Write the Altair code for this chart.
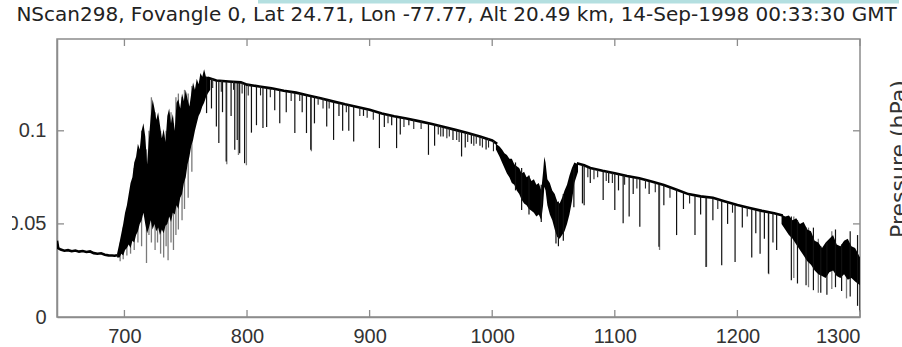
import altair as alt
import pandas as pd

# ---------------------------------------------------------------------------
# Spectrum values (wavenumber in cm-1, radiance)
# ---------------------------------------------------------------------------

# Smooth upper envelope of the black spectrum, split into three segments
# that are separated by the dense absorption bands.
seg1_wn = [645, 646, 648, 651, 654, 657, 660, 663, 666, 669, 672, 675, 678, 681, 684, 687, 690, 692, 694]
seg1_val = [0.041, 0.037, 0.0362, 0.0356, 0.0359, 0.0353, 0.0357, 0.0351, 0.0354, 0.0349, 0.0352,
            0.0343, 0.0340, 0.0342, 0.0334, 0.0331, 0.0330, 0.0329, 0.0332]

seg2_wn = [768, 775, 785, 795, 800, 810, 820, 830, 840, 850, 860, 870, 880, 890, 900,
           910, 920, 930, 940, 950, 960, 970, 980, 990, 1000, 1004]
seg2_val = [0.1285, 0.127, 0.1265, 0.126, 0.1248, 0.1238, 0.1228, 0.1215, 0.1205, 0.119, 0.1175,
            0.1158, 0.1142, 0.1128, 0.1113, 0.1093, 0.1078, 0.1066, 0.1052, 0.1038, 0.1022,
            0.1005, 0.0988, 0.0969, 0.0948, 0.093]

seg3_wn = [1069, 1075, 1080, 1090, 1100, 1110, 1120, 1130, 1140, 1150, 1160, 1170, 1180,
           1190, 1200, 1210, 1220, 1230, 1237]
seg3_val = [0.0826, 0.0815, 0.080, 0.0785, 0.0772, 0.0757, 0.0745, 0.0728, 0.0709, 0.0685,
            0.066, 0.0648, 0.064, 0.062, 0.0601, 0.0585, 0.057, 0.0557, 0.0545]

# Dense absorption bands: wavenumber, upper and lower extent of the black trace
band1_wn = [694, 696, 697.5, 699, 700.5, 702, 703.5, 705, 706.5, 708, 709.5, 711, 712.5, 714,
            715.5, 717, 718.5, 720, 721.5, 723, 724.5, 726, 727.5, 729, 730.5, 732, 733.5, 735,
            736.5, 738, 739.5, 741, 742.5, 744, 745.5, 747, 748.5, 750, 751.5, 753, 754.5, 756,
            757.5, 759, 760.5, 762, 763.5, 765, 766.5, 768, 770]
band1_hi = [0.034, 0.040, 0.045, 0.050, 0.056, 0.060, 0.066, 0.072, 0.075, 0.083, 0.086, 0.093,
            0.090, 0.100, 0.104, 0.097, 0.082, 0.096, 0.108, 0.117, 0.112, 0.106, 0.110, 0.103,
            0.096, 0.101, 0.094, 0.108, 0.112, 0.104, 0.109, 0.100, 0.115, 0.117, 0.112, 0.120,
            0.116, 0.122, 0.117, 0.113, 0.120, 0.126, 0.122, 0.128, 0.125, 0.131, 0.129, 0.133,
            0.129, 0.129, 0.128]
band1_lo = [0.032, 0.032, 0.034, 0.033, 0.036, 0.037, 0.039, 0.037, 0.041, 0.040, 0.044, 0.046,
            0.050, 0.052, 0.056, 0.050, 0.045, 0.048, 0.052, 0.047, 0.050, 0.046, 0.048, 0.044,
            0.047, 0.045, 0.049, 0.050, 0.054, 0.051, 0.056, 0.055, 0.060, 0.058, 0.064, 0.066,
            0.072, 0.075, 0.082, 0.086, 0.092, 0.095, 0.100, 0.104, 0.108, 0.110, 0.113, 0.115,
            0.118, 0.120, 0.122]

band2_wn = [1003, 1006, 1008, 1010, 1012, 1014, 1016, 1018, 1020, 1022, 1024, 1026, 1028, 1030,
            1032, 1034, 1036, 1038, 1040, 1041.5, 1042.5, 1043.5, 1045, 1047, 1049, 1051, 1053,
            1055, 1057, 1059, 1061, 1063, 1065, 1067, 1070]
band2_hi = [0.093, 0.0916, 0.090, 0.088, 0.087, 0.085, 0.085, 0.082, 0.081, 0.080, 0.077, 0.078,
            0.075, 0.076, 0.073, 0.074, 0.071, 0.072, 0.068, 0.078, 0.086, 0.083, 0.074, 0.072,
            0.068, 0.066, 0.062, 0.061, 0.064, 0.068, 0.071, 0.076, 0.080, 0.083, 0.082]
band2_lo = [0.090, 0.086, 0.083, 0.080, 0.077, 0.075, 0.072, 0.071, 0.068, 0.066, 0.063, 0.061,
            0.060, 0.058, 0.057, 0.056, 0.054, 0.055, 0.052, 0.060, 0.070, 0.068, 0.060, 0.055,
            0.052, 0.047, 0.043, 0.042, 0.044, 0.046, 0.050, 0.055, 0.062, 0.072, 0.078]

band3_wn = [1236, 1239, 1242, 1245, 1248, 1251, 1254, 1257, 1260, 1263, 1266, 1269, 1272, 1275,
            1278, 1281, 1284, 1287, 1290, 1293, 1296, 1300]
band3_hi = [0.055, 0.054, 0.0545, 0.052, 0.053, 0.050, 0.051, 0.047, 0.046, 0.041, 0.040, 0.037,
            0.040, 0.042, 0.044, 0.039, 0.038, 0.041, 0.042, 0.038, 0.037, 0.032]
band3_lo = [0.050, 0.047, 0.044, 0.042, 0.039, 0.036, 0.033, 0.030, 0.028, 0.025, 0.023, 0.022,
            0.021, 0.024, 0.025, 0.022, 0.021, 0.023, 0.020, 0.021, 0.019, 0.017]

# Individual absorption lines of the black trace: position, continuum, line bottom
black_wn = [767, 771, 775, 777, 780, 783, 787, 790, 792, 794, 798, 803.6, 807.7, 813, 816,
            822.6, 826.7, 832, 839, 845, 848.5, 852, 855, 865, 870.6, 875, 878, 883, 887, 895,
            908, 912, 918, 922, 925, 932, 948, 953, 960, 968, 975, 978, 983, 990, 995,
            1019, 1024, 1030, 1040, 1052, 1054, 1058, 1066.6, 1075,
            1073.6, 1080, 1090.5, 1095, 1100, 1103, 1106.8, 1111.7, 1115, 1120.4, 1128, 1136,
            1140, 1150.4, 1156, 1165.4, 1170, 1174.4, 1180, 1187.2, 1192, 1198.1, 1204, 1211.7,
            1215, 1218.5, 1222, 1225.3, 1229, 1232,
            1244, 1249, 1256, 1262, 1268, 1273, 1280, 1285, 1292, 1298, 1300]
black_top = [0.129, 0.128, 0.127, 0.127, 0.127, 0.1265, 0.1265, 0.126, 0.126, 0.126, 0.125,
             0.1245, 0.1242, 0.1235, 0.123, 0.1225, 0.122, 0.1213, 0.1205, 0.120, 0.1195,
             0.1188, 0.1185, 0.1167, 0.116, 0.1153, 0.115, 0.1142, 0.1137, 0.112, 0.1097,
             0.109, 0.108, 0.1075, 0.107, 0.106, 0.104, 0.1035, 0.102, 0.1008, 0.0998, 0.0994,
             0.0985, 0.0969, 0.096,
             0.083, 0.080, 0.076, 0.071, 0.063, 0.062, 0.066, 0.080, 0.0815,
             0.0815, 0.080, 0.0786, 0.078, 0.0772, 0.0768, 0.0762, 0.0755, 0.075, 0.0745, 0.073,
             0.0715, 0.0709, 0.0687, 0.0675, 0.0652, 0.0648, 0.0645, 0.064, 0.0625, 0.0617,
             0.0604, 0.0595, 0.0582, 0.0578, 0.0573, 0.0567, 0.0562, 0.0557, 0.0552,
             0.054, 0.052, 0.048, 0.048, 0.038, 0.040, 0.047, 0.039, 0.046, 0.044, 0.032]
black_bot = [0.1095, 0.112, 0.1023, 0.0935, 0.110, 0.0835, 0.108, 0.0898, 0.095, 0.088, 0.0826,
             0.099, 0.103, 0.1015, 0.102, 0.111, 0.104, 0.110, 0.0988, 0.110, 0.0988, 0.0898,
             0.104, 0.1023, 0.0951, 0.108, 0.100, 0.100, 0.0942, 0.108, 0.0907, 0.102, 0.103,
             0.0907, 0.098, 0.103, 0.0871, 0.092, 0.097, 0.095, 0.0862, 0.091, 0.093, 0.092,
             0.090,
             0.068, 0.0575, 0.055, 0.051, 0.0395, 0.038, 0.041, 0.059, 0.060,
             0.061, 0.072, 0.0628, 0.072, 0.0575, 0.068, 0.0503, 0.054, 0.066, 0.0485, 0.066,
             0.0377, 0.060, 0.044, 0.058, 0.044, 0.055, 0.0269, 0.052, 0.0278, 0.050, 0.0296,
             0.048, 0.032, 0.045, 0.034, 0.042, 0.0234, 0.040, 0.036,
             0.0198, 0.018, 0.017, 0.0144, 0.013, 0.012, 0.016, 0.014, 0.011, 0.006, 0.003]

# Weak lines that give the continuum its ragged texture
weak_wn = [772, 779, 789, 796, 801, 811, 819, 836, 843, 858, 862, 867, 881, 892, 898, 903,
           915, 928, 936, 942, 956, 958, 963, 965, 971, 973, 980, 985, 987, 992, 997, 1001,
           1078, 1083, 1086, 1093, 1098, 1108, 1118, 1125, 1133, 1145, 1161, 1184, 1196, 1208]
weak_top = [0.128, 0.127, 0.1265, 0.126, 0.1248, 0.1238, 0.1228, 0.121, 0.1202, 0.118, 0.1175,
            0.1165, 0.114, 0.1125, 0.1115, 0.1105, 0.1085, 0.1068, 0.106, 0.1054, 0.103, 0.1025,
            0.1018, 0.1014, 0.1003, 0.1, 0.0988, 0.098, 0.0975, 0.0965, 0.0958, 0.0945,
            0.0802, 0.0796, 0.079, 0.0782, 0.0775, 0.076, 0.0747, 0.0735, 0.072, 0.0695,
            0.0658, 0.0632, 0.0605, 0.059]
weak_bot = [0.123, 0.121, 0.122, 0.120, 0.119, 0.119, 0.118, 0.116, 0.116, 0.114, 0.112, 0.112,
            0.110, 0.108, 0.107, 0.106, 0.104, 0.102, 0.101, 0.101, 0.098, 0.097, 0.096, 0.097,
            0.095, 0.094, 0.094, 0.092, 0.093, 0.091, 0.091, 0.089,
            0.075, 0.074, 0.075, 0.073, 0.072, 0.071, 0.069, 0.069, 0.067, 0.064, 0.061,
            0.058, 0.056, 0.054]

# Lines of the grey trace, which runs deeper inside the strong bands
grey_wn = [696.5, 699, 702, 705, 708, 711, 714, 718, 720, 722, 725, 727, 729.5, 732, 734,
           735.6, 738, 740, 742, 744, 747, 749, 752, 755,
           783.5, 793, 799.5, 852.5, 1136.5, 1174.8, 1225.6, 1246, 1258, 1266, 1277, 1289]
grey_top = [0.040, 0.048, 0.058, 0.066, 0.080, 0.090, 0.100, 0.090, 0.100, 0.118, 0.110, 0.105,
            0.100, 0.098, 0.100, 0.105, 0.110, 0.104, 0.118, 0.120, 0.118, 0.122, 0.120, 0.124,
            0.126, 0.126, 0.125, 0.1188, 0.0715, 0.0645, 0.0562, 0.054, 0.048, 0.042, 0.046, 0.041]
grey_bot = [0.030, 0.031, 0.033, 0.034, 0.036, 0.040, 0.038, 0.029, 0.044, 0.040, 0.036, 0.040,
            0.034, 0.032, 0.038, 0.0305, 0.040, 0.036, 0.044, 0.047, 0.052, 0.058, 0.064, 0.078,
            0.082, 0.087, 0.0815, 0.089, 0.036, 0.027, 0.023, 0.021, 0.016, 0.013, 0.015, 0.010]

# Axis ticks
x_ticks = [700, 800, 900, 1000, 1100, 1200, 1300]
y_ticks = [0, 0.05, 0.1]

title_text = "NScan298, Fovangle 0, Lat 24.71, Lon -77.77, Alt 20.49 km, 14-Sep-1998 00:33:30 GMT"
right_title = "Pressure (hPa)"

# ---------------------------------------------------------------------------
# Tables
# ---------------------------------------------------------------------------
cont = pd.concat([
    pd.DataFrame({"wn": seg1_wn, "val": seg1_val, "seg": "a"}),
    pd.DataFrame({"wn": seg2_wn, "val": seg2_val, "seg": "b"}),
    pd.DataFrame({"wn": seg3_wn, "val": seg3_val, "seg": "c"}),
])
bands = pd.concat([
    pd.DataFrame({"wn": band1_wn, "hi": band1_hi, "lo": band1_lo, "band": "co2"}),
    pd.DataFrame({"wn": band2_wn, "hi": band2_hi, "lo": band2_lo, "band": "o3"}),
    pd.DataFrame({"wn": band3_wn, "hi": band3_hi, "lo": band3_lo, "band": "h2o"}),
])
black_lines = pd.DataFrame({"wn": black_wn, "top": black_top, "bot": black_bot})
weak_lines = pd.DataFrame({"wn": weak_wn, "top": weak_top, "bot": weak_bot})
grey_lines = pd.DataFrame({"wn": grey_wn, "top": grey_top, "bot": grey_bot})
xt = pd.DataFrame({"wn": x_ticks})
yt = pd.DataFrame({"v": [0.05, 0.1]})

W, H = 803, 278
AXIS_GREY = "#8c8c8c"

xs = alt.Scale(domain=[645, 1300], nice=False, zero=False)
ys = alt.Scale(domain=[0, 0.1493], nice=False, zero=False)

x_axis = alt.Axis(values=x_ticks, ticks=False, grid=False, title=None, labelPadding=9,
                  format="d", domainColor=AXIS_GREY, domainWidth=1.5,
                  labelFont="Liberation Sans", labelFontSize=20, labelColor="#333333")
y_axis = alt.Axis(values=y_ticks, ticks=False, grid=False, title=None, labelPadding=11,
                  format="~g", domainColor=AXIS_GREY, domainWidth=1.5,
                  labelFont="Liberation Sans", labelFontSize=20, labelColor="#333333")

base_x = alt.X("wn:Q", scale=xs, axis=x_axis)

grey_layer = alt.Chart(grey_lines).mark_rule(color="#7a7a7a", strokeWidth=1.3, clip=True).encode(
    x=base_x, y=alt.Y("top:Q", scale=ys, axis=y_axis), y2="bot:Q")

band_layer = alt.Chart(bands).mark_area(color="#000000", clip=True).encode(
    x=base_x, y=alt.Y("hi:Q", scale=ys, axis=y_axis), y2="lo:Q", detail="band:N")

cont_layer = alt.Chart(cont).mark_line(color="#000000", strokeWidth=2.6, clip=True).encode(
    x=base_x, y=alt.Y("val:Q", scale=ys, axis=y_axis), detail="seg:N")

weak_layer = alt.Chart(weak_lines).mark_rule(color="#222222", strokeWidth=1.1, clip=True).encode(
    x=base_x, y=alt.Y("top:Q", scale=ys, axis=y_axis), y2="bot:Q")

black_layer = alt.Chart(black_lines).mark_rule(color="#111111", strokeWidth=1.2, clip=True).encode(
    x=base_x, y=alt.Y("top:Q", scale=ys, axis=y_axis), y2="bot:Q")

# inward-pointing ticks on all four sides
tick_bottom = alt.Chart(xt).mark_rule(color=AXIS_GREY, strokeWidth=1.3).encode(
    x=base_x, y=alt.value(H), y2=alt.value(H - 7))
tick_top = alt.Chart(xt).mark_rule(color=AXIS_GREY, strokeWidth=1.3).encode(
    x=base_x, y=alt.value(0), y2=alt.value(7))
tick_left = alt.Chart(yt).mark_rule(color=AXIS_GREY, strokeWidth=1.3).encode(
    y=alt.Y("v:Q", scale=ys, axis=y_axis), x=alt.value(0), x2=alt.value(7))
tick_right = alt.Chart(yt).mark_rule(color=AXIS_GREY, strokeWidth=1.3).encode(
    y=alt.Y("v:Q", scale=ys, axis=y_axis), x=alt.value(W), x2=alt.value(W - 7))

right_label = alt.Chart(pd.DataFrame({"t": [right_title]})).mark_text(
    angle=270, font="DejaVu Sans", fontSize=22, color="#333333", align="center",
    baseline="alphabetic").encode(text="t:N", x=alt.value(849), y=alt.value(120))

title_mark = alt.Chart(pd.DataFrame({"t": [title_text]})).mark_text(
    font="DejaVu Sans", fontSize=20, color="#222222", align="center",
    baseline="alphabetic").encode(text="t:N", x=alt.value(W / 2 - 2), y=alt.value(-18))

top_strip = alt.Chart(pd.DataFrame({"k": [0]})).mark_rect(color="#b4dfe0").encode(
    x=alt.value(201), x2=alt.value(842), y=alt.value(-39), y2=alt.value(-35.5))

left_edge = alt.Chart(pd.DataFrame({"k": [0]})).mark_rect(color="#ffffff").encode(
    x=alt.value(-57), x2=alt.value(-45), y=alt.value(-10), y2=alt.value(H + 30))

chart = alt.layer(
    grey_layer, band_layer, cont_layer, weak_layer, black_layer,
    tick_bottom, tick_top, tick_left, tick_right,
    right_label, top_strip, left_edge, title_mark,
).properties(
    width=W, height=H,
    background="white",
    autosize=alt.AutoSizeParams(type="none"),
    padding={"left": 57, "top": 39, "right": 42, "bottom": 30},
).configure_view(
    stroke=AXIS_GREY, strokeWidth=1.5
)

chart.save("out.html", embed_options={"renderer": "svg", "actions": False})
